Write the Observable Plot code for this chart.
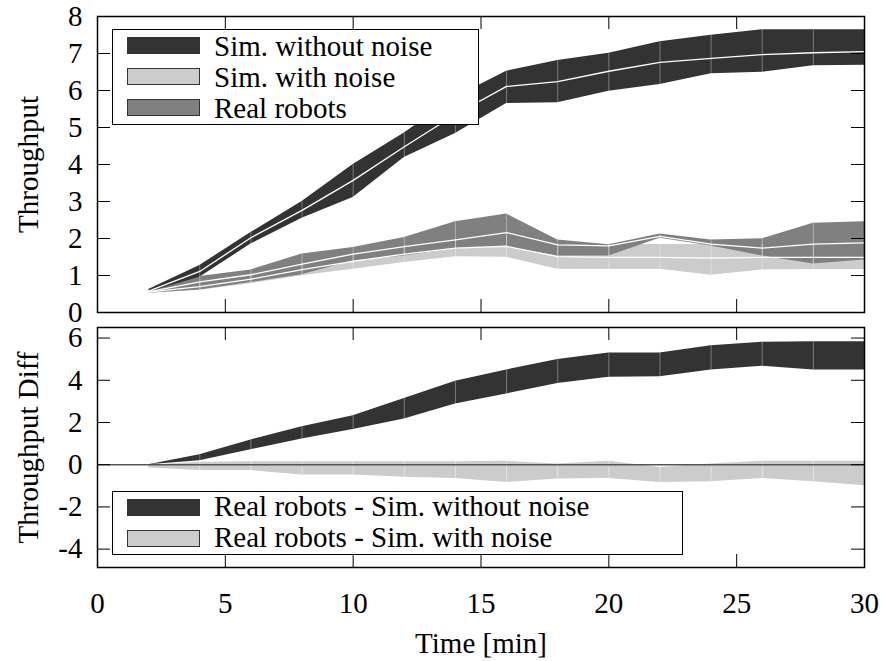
<!DOCTYPE html>
<html>
<head>
<meta charset="utf-8">
<script src="https://cdn.jsdelivr.net/npm/d3@7"></script>
<script src="https://cdn.jsdelivr.net/npm/@observablehq/plot@0.6"></script>
<style>
  body { margin: 0; background: #fff; }
  #chart { position: relative; width: 885px; height: 661px; font-family: "Liberation Serif", serif; }
  #chart > svg { display: block; overflow: visible; }
  #legend { position: absolute; left: 0; top: 0; pointer-events: none; }
</style>
</head>
<body>
<div id="chart"></div>
<script>
// ---- data ----
const times = [2, 4, 6, 8, 10, 12, 14, 16, 18, 20, 22, 24, 26, 28, 30];

// Top panel: Sim. without noise
const simNoNoiseMean = [0.58, 1.11, 2.02, 2.76, 3.57, 4.48, 5.35, 6.11, 6.24, 6.52, 6.76, 6.87, 6.97, 7.02, 7.05];
const simNoNoiseLo   = [0.55, 0.95, 1.85, 2.55, 3.11, 4.19, 4.84, 5.65, 5.67, 5.98, 6.16, 6.45, 6.49, 6.67, 6.68];
const simNoNoiseHi   = [0.62, 1.27, 2.16, 3.00, 4.00, 4.85, 5.82, 6.52, 6.81, 7.01, 7.32, 7.49, 7.64, 7.64, 7.64];

// Top panel: Sim. with noise
const simNoiseMean = [0.55, 0.70, 0.90, 1.16, 1.38, 1.58, 1.74, 1.79, 1.51, 1.49, 1.49, 1.47, 1.49, 1.49, 1.49];
const simNoiseLo   = [0.52, 0.60, 0.78, 0.99, 1.17, 1.35, 1.51, 1.49, 1.17, 1.17, 1.17, 1.01, 1.15, 1.16, 1.16];
const simNoiseHi   = [0.58, 0.80, 1.02, 1.33, 1.59, 1.81, 1.97, 2.09, 1.85, 1.84, 1.84, 1.84, 1.84, 1.84, 1.84];

// Top panel: Real robots
const realMean = [0.56, 0.83, 1.02, 1.31, 1.58, 1.78, 1.96, 2.16, 1.83, 1.80, 2.06, 1.85, 1.74, 1.85, 1.88];
const realLo   = [0.52, 0.61, 0.81, 1.02, 1.40, 1.53, 1.72, 1.77, 1.53, 1.53, 2.01, 1.80, 1.53, 1.31, 1.42];
const realHi   = [0.60, 0.97, 1.15, 1.58, 1.76, 2.03, 2.45, 2.66, 1.96, 1.83, 2.12, 1.96, 1.99, 2.41, 2.45];

// Bottom panel: differences
const diffNoNoiseLo = [0.00, 0.19, 0.71, 1.22, 1.67, 2.16, 2.87, 3.35, 3.85, 4.14, 4.17, 4.49, 4.66, 4.49, 4.49];
const diffNoNoiseHi = [0.00, 0.47, 1.17, 1.80, 2.32, 3.14, 3.95, 4.49, 4.98, 5.29, 5.29, 5.64, 5.80, 5.83, 5.83];
const diffNoiseLo   = [-0.16, -0.28, -0.28, -0.49, -0.49, -0.60, -0.65, -0.84, -0.68, -0.65, -0.84, -0.81, -0.65, -0.81, -1.00];
const diffNoiseHi   = [-0.02, 0.12, 0.14, 0.14, 0.14, 0.14, 0.14, 0.16, 0.03, 0.16, -0.13, 0.03, 0.16, 0.16, 0.16];

// ticks and labels
const xTicks = [0, 5, 10, 15, 20, 25, 30];
const yTicksTop = [0, 1, 2, 3, 4, 5, 6, 7, 8];
const yTicksBottom = [-4, -2, 0, 2, 4, 6];
const yDomainTop = [0, 8];
const yDomainBottom = [-4.87, 6.5];
const xDomain = [0, 30];
const xLabel = "Time [min]";
const yLabelTop = "Throughput";
const yLabelBottom = "Throughput Diff";
const legendTop = ["Sim. without noise", "Sim. with noise", "Real robots"];
const legendBottom = ["Real robots - Sim. without noise", "Real robots - Sim. with noise"];

// colours
const cDark = "#333333", cMid = "#808080", cLight = "#cccccc";

// ---- build tables ----
const topRows = times.map((t, i) => ({
  t,
  sm: simNoNoiseMean[i], slo: simNoNoiseLo[i], shi: simNoNoiseHi[i],
  nm: simNoiseMean[i], nlo: simNoiseLo[i], nhi: simNoiseHi[i],
  rm: realMean[i], rlo: realLo[i], rhi: realHi[i]
}));
const botRows = times.map((t, i) => ({
  t,
  alo: diffNoNoiseLo[i], ahi: diffNoNoiseHi[i],
  blo: diffNoiseLo[i], bhi: diffNoiseHi[i]
}));

const W = 885, ML = 97, MR = 21;
const frameW = W - ML - MR;
const TICK = 13;
const FONT = 29;
const FF = "'Liberation Serif', 'Times New Roman', serif";

function frameTicks(yTicks, frameH) {
  return [
    Plot.tickX(xTicks, {x: d => d, stroke: "#000", strokeWidth: 1, insetTop: frameH - TICK}),
    Plot.tickX(xTicks, {x: d => d, stroke: "#000", strokeWidth: 1, insetBottom: frameH - TICK}),
    Plot.tickY(yTicks, {y: d => d, stroke: "#000", strokeWidth: 1, insetRight: frameW - TICK}),
    Plot.tickY(yTicks, {y: d => d, stroke: "#000", strokeWidth: 1, insetLeft: frameW - TICK})
  ];
}

// ---- top panel ----
const topH = 320, topMT = 16, topMB = 8;
const topFrameH = topH - topMT - topMB;
const topPlot = Plot.plot({
  width: W, height: topH,
  marginTop: topMT, marginBottom: topMB, marginLeft: ML, marginRight: MR,
  x: {domain: xDomain, axis: null},
  y: {domain: yDomainTop, axis: null},
  style: {fontFamily: FF, fontSize: FONT + "px", color: "#000", background: "transparent", overflow: "visible"},
  marks: [
    Plot.areaY(topRows, {x: "t", y1: "nlo", y2: "nhi", fill: cLight}),
    Plot.areaY(topRows, {x: "t", y1: "rlo", y2: "rhi", fill: cMid}),
    Plot.areaY(topRows, {x: "t", y1: "slo", y2: "shi", fill: cDark}),
    Plot.ruleX(topRows, {x: "t", y1: "nlo", y2: "nhi", stroke: "#fff", strokeOpacity: 0.35}),
    Plot.ruleX(topRows, {x: "t", y1: "rlo", y2: "rhi", stroke: "#fff", strokeOpacity: 0.35}),
    Plot.ruleX(topRows, {x: "t", y1: "slo", y2: "shi", stroke: "#fff", strokeOpacity: 0.35}),
    Plot.line(topRows, {x: "t", y: "nm", stroke: "#fff", strokeWidth: 1.3}),
    Plot.line(topRows, {x: "t", y: "rm", stroke: "#fff", strokeWidth: 1.3}),
    Plot.line(topRows, {x: "t", y: "sm", stroke: "#fff", strokeWidth: 1.3}),
    ...frameTicks(yTicksTop, topFrameH),
    Plot.frame({stroke: "#000", strokeWidth: 1.5}),
    Plot.axisY(yTicksTop, {anchor: "left", tickSize: 0, tickPadding: 15, label: null, fontSize: FONT, tickFormat: d => String(d)}),
    Plot.text([yLabelTop], {text: d => d, frameAnchor: "left", dx: -69, rotate: -90, textAnchor: "middle", lineAnchor: "middle", fontSize: FONT})
  ]
});

// ---- bottom panel ----
const botH = 341, botMT = 7, botMB = 94;
const botFrameH = botH - botMT - botMB;
const botPlot = Plot.plot({
  width: W, height: botH,
  marginTop: botMT, marginBottom: botMB, marginLeft: ML, marginRight: MR,
  x: {domain: xDomain, axis: null},
  y: {domain: yDomainBottom, axis: null},
  style: {fontFamily: FF, fontSize: FONT + "px", color: "#000", background: "transparent", overflow: "visible"},
  marks: [
    Plot.areaY(botRows, {x: "t", y1: "blo", y2: "bhi", fill: cLight}),
    Plot.areaY(botRows, {x: "t", y1: "alo", y2: "ahi", fill: cDark}),
    Plot.ruleX(botRows, {x: "t", y1: "blo", y2: "bhi", stroke: "#fff", strokeOpacity: 0.45}),
    Plot.ruleX(botRows, {x: "t", y1: "alo", y2: "ahi", stroke: "#fff", strokeOpacity: 0.35}),
    Plot.ruleY([0], {stroke: "#555", strokeWidth: 1.5}),
    ...frameTicks(yTicksBottom, botFrameH),
    Plot.frame({stroke: "#000", strokeWidth: 1.5}),
    Plot.axisY(yTicksBottom, {anchor: "left", tickSize: 0, tickPadding: 15, label: null, fontSize: FONT, tickFormat: d => String(d)}),
    Plot.axisX(xTicks, {anchor: "bottom", tickSize: 0, tickPadding: 25, label: null, fontSize: FONT, tickFormat: d => String(d)}),
    Plot.text([yLabelBottom], {text: d => d, frameAnchor: "left", dx: -69, rotate: -90, textAnchor: "middle", lineAnchor: "middle", fontSize: FONT}),
    Plot.text([xLabel], {text: d => d, frameAnchor: "bottom", dy: 76, lineAnchor: "middle", textAnchor: "middle", fontSize: FONT})
  ]
});

const chart = document.getElementById("chart");
chart.appendChild(topPlot);
chart.appendChild(botPlot);

// ---- legends (overlay) ----
const svg = d3.select(chart).append("svg")
  .attr("id", "legend").attr("width", W).attr("height", 661)
  .style("font-family", FF).style("font-size", FONT + "px");

function legend(x, y, w, h, labels, fills, rowTop, baseline) {
  const g = svg.append("g");
  g.append("rect").attr("x", x + 0.5).attr("y", y + 0.5).attr("width", w).attr("height", h)
    .attr("fill", "#fff").attr("stroke", "#000").attr("stroke-width", 1);
  labels.forEach((lab, i) => {
    g.append("rect").attr("x", 127.5).attr("y", rowTop + 31 * i + 0.5).attr("width", 72).attr("height", 16)
      .attr("fill", fills[i]).attr("stroke", "#333").attr("stroke-width", 1);
    g.append("text").attr("x", 214).attr("y", baseline + 31 * i).attr("fill", "#000").text(lab);
  });
}
legend(112, 29, 366, 95, legendTop, [cDark, cLight, cMid], 37, 56);
legend(112, 491, 570, 63, legendBottom, [cDark, cLight], 499, 516);
</script>
</body>
</html>
